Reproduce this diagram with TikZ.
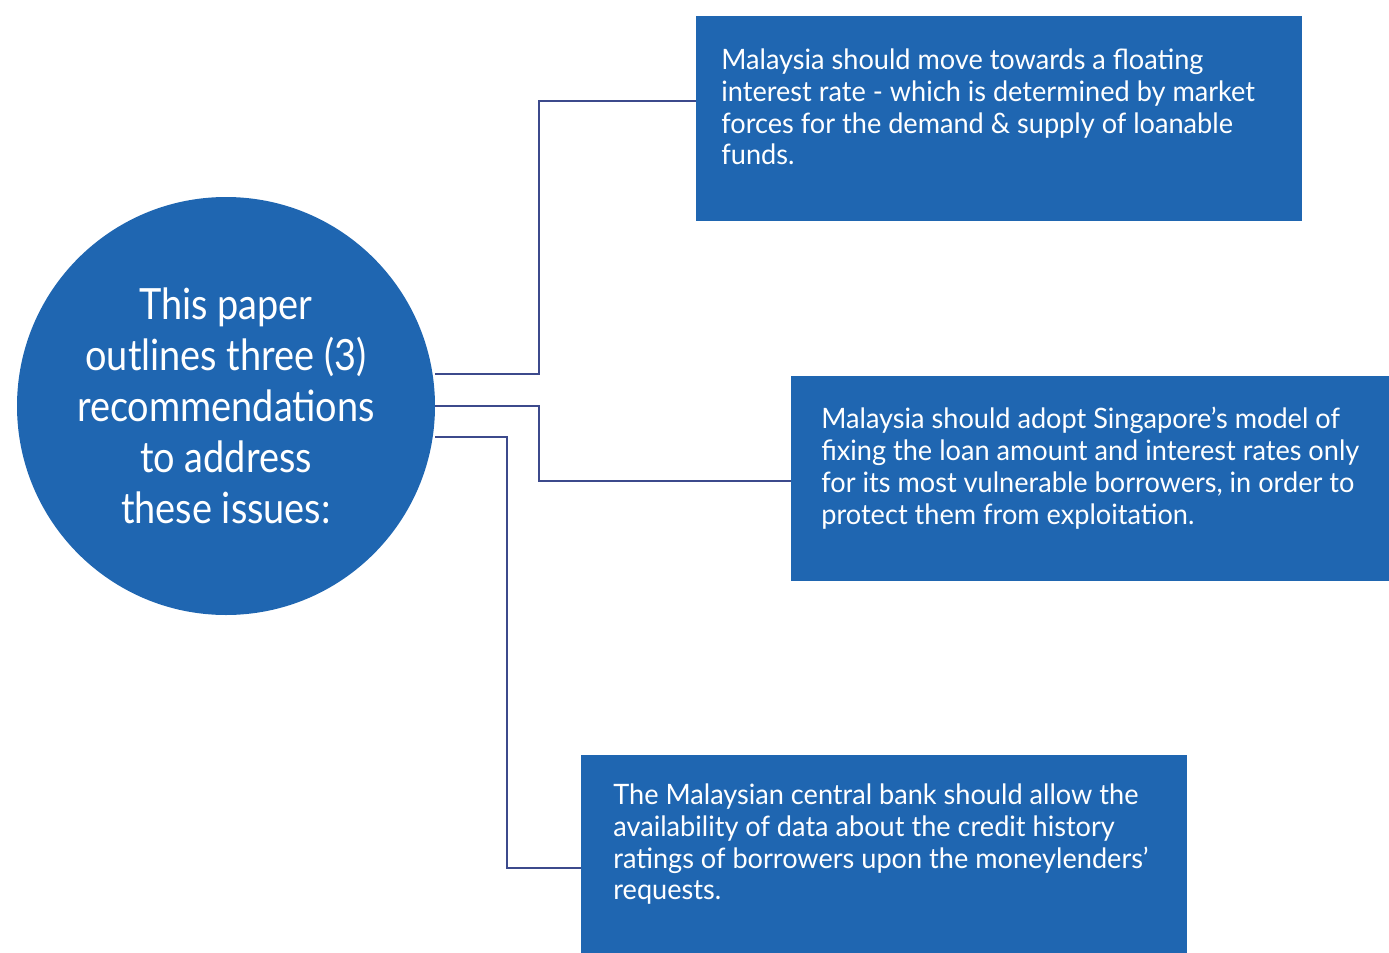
\documentclass[tikz,border=0pt]{standalone}
\usepackage{fontspec}
\setmainfont{Lato}[FakeStretch=0.88]
\newfontfamily\boxfont{Lato}[FakeStretch=0.965]
\definecolor{boxblue}{HTML}{1F66B1}
\definecolor{linenavy}{HTML}{3C4A8C}
\begin{document}
\begin{tikzpicture}[x=0.02cm,y=-0.02cm,
  box/.style={rectangle,fill=boxblue,draw=none,inner sep=0pt,anchor=north west},
  boxtext/.style={anchor=north west,inner sep=0pt,text=white,align=left,font=\boxfont\fontsize{16}{18.2}\selectfont},
  conn/.style={draw=linenavy,line width=1.4pt}]
\useasboundingbox (0,0) rectangle (1389,953);
\node[circle,fill=boxblue,minimum size=418*0.02cm,inner sep=0pt,outer sep=0pt] (c) at (226,406) {};
\node[text=white,align=center,font=\fontsize{24.5}{29}\selectfont] (ct) at (226,406) {This paper\\outlines three (3)\\recommendations\\to address\\these issues:};
\node[box,minimum width=606*0.02cm,minimum height=205*0.02cm] (b1) at (696,16) {};
\node[box,minimum width=598*0.02cm,minimum height=205*0.02cm] (b2) at (791,376) {};
\node[box,minimum width=606*0.02cm,minimum height=198*0.02cm] (b3) at (581,755) {};
\node[boxtext] (t1) at (721,48) {Malaysia should move towards a floating\\interest rate - which is determined by market\\forces for the demand \& supply of loanable\\funds.};
\node[boxtext] (t2) at (821,407) {Malaysia should adopt Singapore’s model of\\fixing the loan amount and interest rates only\\for its most vulnerable borrowers, in order to\\protect them from exploitation.};
\node[boxtext] (t3) at (613,783) {The Malaysian central bank should allow the\\availability of data about the credit history\\ratings of borrowers upon the moneylenders’\\requests.};
\draw[conn] (c.east |- 0,374) -- (539,374) -- (539,101) -- (b1.west |- 0,101);
\draw[conn] (c.east) -- (539,406) -- (539,481) -- (b2.west |- 0,481);
\draw[conn] (c.east |- 0,437) -- (507,437) -- (507,868) -- (b3.west |- 0,868);
\end{tikzpicture}
\end{document}
